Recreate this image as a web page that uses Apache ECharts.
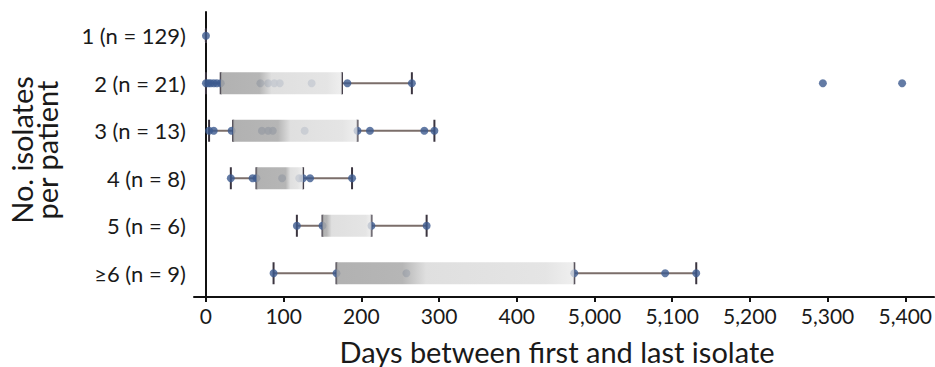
<!DOCTYPE html>
<html>
<head>
<meta charset="utf-8">
<script src="https://cdn.jsdelivr.net/npm/echarts@6/dist/echarts.min.js"></script>
<style>
html,body{margin:0;padding:0;background:#fff;}
#chart{width:935px;height:367px;}
</style>
</head>
<body>
<div id="chart"></div>
<script>
// ---------- data (days) ----------
const categories = ['1 (n = 129)', '2 (n = 21)', '3 (n = 13)', '4 (n = 8)', '5 (n = 6)', '\u22656 (n = 9)'];
const lowWhisker  = [0, 0,   4,  32, 117, 87];
const q1          = [0, 19,  35, 65, 150, 168];
const median      = [0, 75,  99, 105, 158, 265];
const q3          = [0, 175, 195, 125, 213, 474];
const highWhisker = [0, 265, 294, 188, 284, 5131];
const points1 = [0];
const points2 = [0, 3, 6, 10, 14, 19, 70, 80, 88, 95, 136, 182, 265, 5294, 5396];
const points3 = [4, 10, 33, 72, 80, 86, 127, 195, 211, 281, 294];
const points4 = [32, 60, 65, 98, 120, 125, 134, 188];
const points5 = [117, 150, 213, 284];
const points6 = [87, 168, 258, 474, 5091, 5131];
const tickValues = [0, 100, 200, 300, 400, 5000, 5100, 5200, 5300, 5400];

// broken axis: 500..5000 collapsed
const BREAK_FROM = 5000, BREAK_SHIFT = 4500;
function tx(v) { return v >= BREAK_FROM ? v - BREAK_SHIFT : v; }
function untx(t) { return t >= BREAK_FROM - BREAK_SHIFT ? t + BREAK_SHIFT : t; }
function fmt(v) { return String(v).replace(/\B(?=(\d{3})+(?!\d))/g, ','); }

const allPoints = [points1, points2, points3, points4, points5, points6];
const boxData = categories.map((c, i) => [i, tx(lowWhisker[i]), tx(q1[i]), tx(median[i]), tx(q3[i]), tx(highWhisker[i])]);
const scatterData = [];
allPoints.forEach((arr, i) => arr.forEach(v => scatterData.push([tx(v), i])));

const FONT = 'Lato';
const chart = echarts.init(document.getElementById('chart'), null, { renderer: 'svg' });

function whiskerRender(params, api) {
  const ci = api.value(0);
  const lo = api.coord([api.value(1), ci]);
  const a = api.coord([api.value(2), ci]);
  const b = api.coord([api.value(4), ci]);
  const hi = api.coord([api.value(5), ci]);
  const y = lo[1];
  const capH = (hi[0] - lo[0] < 1) ? 14 : 22;
  const lineStyle = { stroke: '#7b6e6a', lineWidth: 2 };
  const capStyle = { stroke: '#3b3540', lineWidth: 2 };
  const ch = [];
  ch.push({ type: 'line', shape: { x1: lo[0], y1: y, x2: a[0], y2: y }, style: lineStyle });
  ch.push({ type: 'line', shape: { x1: b[0], y1: y, x2: hi[0], y2: y }, style: lineStyle });
  [lo[0], a[0], b[0], hi[0]].forEach(x => {
    ch.push({ type: 'line', shape: { x1: x, y1: y - capH / 2, x2: x, y2: y + capH / 2 }, style: capStyle });
  });
  return { type: 'group', children: ch };
}

function boxRender(params, api) {
  const ci = api.value(0);
  const a = api.coord([api.value(2), ci]);
  const m = api.coord([api.value(3), ci]);
  const b = api.coord([api.value(4), ci]);
  const w = b[0] - a[0];
  if (w < 1) return null;
  const h = 22;
  const f = Math.max(0, Math.min(1, (m[0] - a[0]) / w));
  const stops = [
    { offset: 0, color: 'rgba(165,165,165,0.86)' },
    { offset: Math.max(0, f - 0.04), color: 'rgba(170,170,170,0.86)' },
    { offset: Math.min(1, f + 0.06), color: 'rgba(218,218,218,0.86)' },
    { offset: 0.88, color: 'rgba(224,224,224,0.85)' },
    { offset: 1, color: 'rgba(232,232,232,0.7)' }
  ];
  return {
    type: 'rect',
    shape: { x: a[0], y: a[1] - h / 2, width: w, height: h },
    style: { fill: new echarts.graphic.LinearGradient(0, 0, 1, 0, stops) }
  };
}

const option = {
  backgroundColor: '#ffffff',
  animation: false,
  textStyle: { fontFamily: FONT },
  grid: { left: 194, right: 0, top: 12, bottom: 70, containLabel: false },
  xAxis: {
    type: 'value',
    min: -15.4,
    max: 937,
    splitLine: { show: false },
    axisLine: { show: true, onZero: false, lineStyle: { color: '#111', width: 2 } },
    axisTick: { show: true, length: 5, lineStyle: { color: '#111', width: 2 }, customValues: tickValues.map(tx) },
    axisLabel: {
      customValues: tickValues.map(tx),
      formatter: v => fmt(untx(Math.round(v))),
      fontFamily: FONT, fontSize: 21, color: '#1a1a1a', margin: 8
    }
  },
  yAxis: {
    type: 'category',
    data: categories,
    inverse: true,
    axisLine: { show: true, lineStyle: { color: '#111', width: 2 } },
    axisTick: { show: false },
    splitLine: { show: false },
    axisLabel: { fontFamily: FONT, fontSize: 22, color: '#1a1a1a', margin: 8 }
  },
  graphic: [{
    type: 'text',
    x: 34, y: 150,
    rotation: Math.PI / 2,
    style: {
      text: 'No. isolates\nper patient',
      font: '29px ' + FONT,
      fill: '#1a1a1a',
      align: 'center',
      verticalAlign: 'middle',
      lineHeight: 25
    }
  }, {
    type: 'text',
    x: 557, y: 351,
    style: {
      text: 'Days between first and last isolate',
      font: '29px ' + FONT,
      fill: '#1a1a1a',
      align: 'center',
      verticalAlign: 'middle'
    }
  }],
  series: [
    {
      type: 'custom', name: 'whiskers', z: 1,
      renderItem: whiskerRender,
      encode: { x: [1, 2, 3, 4, 5], y: 0 },
      data: boxData
    },
    {
      type: 'scatter', name: 'isolates', z: 2,
      symbolSize: 8,
      itemStyle: { color: '#3c5a8e' },
      data: scatterData
    },
    {
      type: 'custom', name: 'boxes', z: 3,
      renderItem: boxRender,
      encode: { x: [1, 2, 3, 4, 5], y: 0 },
      data: boxData
    }
  ]
};
chart.setOption(option);
</script>
</body>
</html>
